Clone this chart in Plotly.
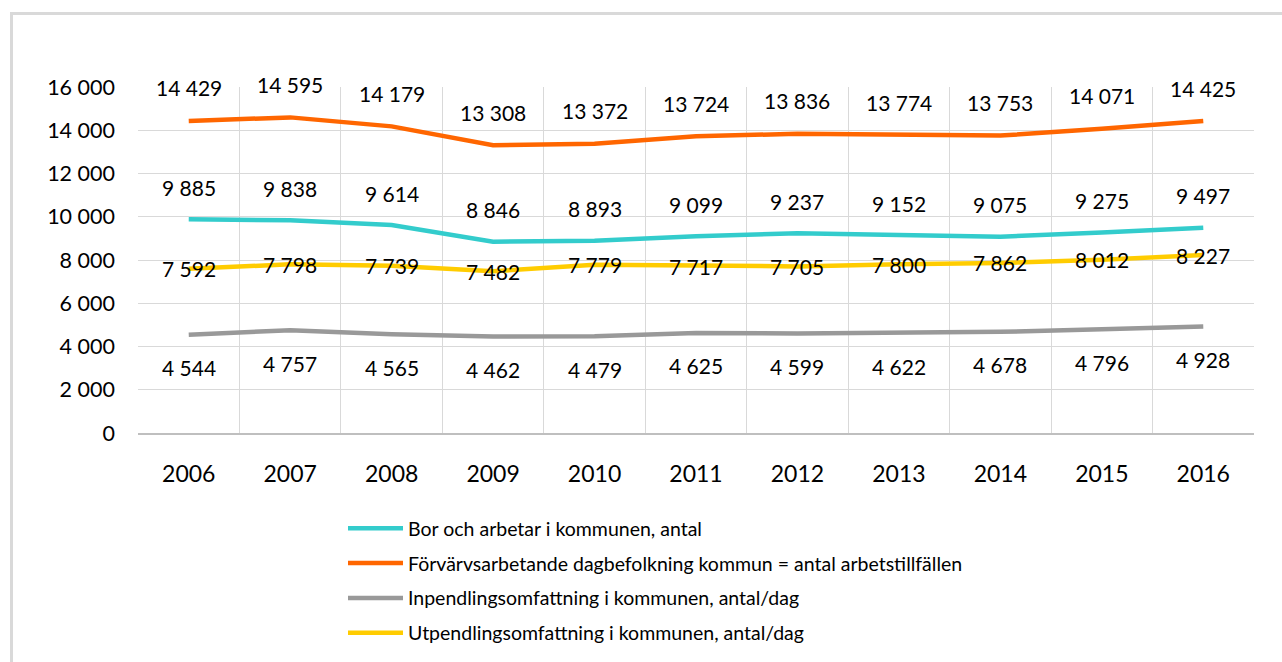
import plotly.graph_objects as go

years = ["2006", "2007", "2008", "2009", "2010", "2011", "2012", "2013", "2014", "2015", "2016"]
bor = [9885, 9838, 9614, 8846, 8893, 9099, 9237, 9152, 9075, 9275, 9497]
forv = [14429, 14595, 14179, 13308, 13372, 13724, 13836, 13774, 13753, 14071, 14425]
inp = [4544, 4757, 4565, 4462, 4479, 4625, 4599, 4622, 4678, 4796, 4928]
utp = [7592, 7798, 7739, 7482, 7779, 7717, 7705, 7800, 7862, 8012, 8227]
y_ticks = [0, 2000, 4000, 6000, 8000, 10000, 12000, 14000, 16000]

names = [
    "Bor och arbetar i kommunen, antal",
    "Förvärvsarbetande dagbefolkning kommun = antal arbetstillfällen",
    "Inpendlingsomfattning i kommunen, antal/dag",
    "Utpendlingsomfattning i kommunen, antal/dag",
]
series = [bor, forv, inp, utp]
colors = ["#33CCCC", "#FF6600", "#999999", "#FFCC00"]
label_shift = [32, 33, -33, 0]

FONT = "Lato, 'Open Sans', sans-serif"
W, H = 1282, 662
L, R, T, B = 138, 28, 87, 229
PW, PH = W - L - R, H - T - B

def fmt(v):
    return f"{v:,}".replace(",", " ")

def px_x(p):
    return (p - L) / PW

def px_y(p):
    return (H - B - p) / PH

xs = list(range(len(years)))
fig = go.Figure()
for name, vals, col in zip(names, series, colors):
    fig.add_trace(go.Scatter(
        x=xs, y=vals, mode="lines", name=name,
        line=dict(color=col, width=4.5),
        legendgroup=name, hoverinfo="skip",
    ))

annotations = []
for vals, sh in zip(series, label_shift):
    for xi, v in zip(xs, vals):
        annotations.append(dict(
            x=xi, y=v, text=fmt(v), showarrow=False, yshift=sh,
            font=dict(family=FONT, size=21, color="#000000"),
        ))

# outer frame: only top and left edges fall inside the page
shapes = [
    dict(type="rect", xref="paper", yref="paper",
         x0=px_x(11.5), x1=px_x(1320),
         y0=px_y(13.5), y1=px_y(700),
         line=dict(color="#D9D9D9", width=3), fillcolor="rgba(0,0,0,0)",
         layer="below"),
]

fig.update_layout(
    width=W, height=H,
    margin=dict(l=L, r=R, t=T, b=B, autoexpand=False),
    paper_bgcolor="white", plot_bgcolor="white",
    separators=", ",
    font=dict(family=FONT, color="#000000"),
    showlegend=True,
    legend=dict(
        xref="container", yref="container",
        x=343 / W, xanchor="left",
        y=1 - 509 / H, yanchor="top",
        font=dict(family=FONT, size=19.5, color="#000000"),
        tracegroupgap=6.5, traceorder="grouped",
        itemwidth=55,
        bgcolor="rgba(0,0,0,0)",
    ),
    annotations=annotations,
    shapes=shapes,
)

fig.update_xaxes(
    range=[-0.5, len(years) - 0.5],
    tickmode="array", tickvals=xs, ticktext=years,
    showgrid=False, ticks="",
    tickfont=dict(family=FONT, size=23, color="#000000"),
    ticklabelstandoff=20,
    showline=True, linecolor="#BFBFBF", linewidth=1.5,
    minor=dict(tick0=-0.5, dtick=1, showgrid=True, gridcolor="#D9D9D9", gridwidth=1, ticks=""),
    zeroline=False, fixedrange=True, automargin=False,
)
fig.update_yaxes(
    range=[0, 16000],
    tickmode="array", tickvals=y_ticks,
    ticktext=[fmt(v) for v in y_ticks],
    showgrid=True, gridcolor="#D9D9D9", gridwidth=1,
    tickfont=dict(family=FONT, size=21.5, color="#000000"),
    ticklabelstandoff=22,
    zeroline=False, showline=False, fixedrange=True, automargin=False,
)

fig.write_html(
    "out.html",
    config={"displayModeBar": False},
    post_script=(
        "document.body.style.margin='0';"
        "document.body.style.overflow='hidden';"
        "document.documentElement.style.overflow='hidden';"
    ),
)
